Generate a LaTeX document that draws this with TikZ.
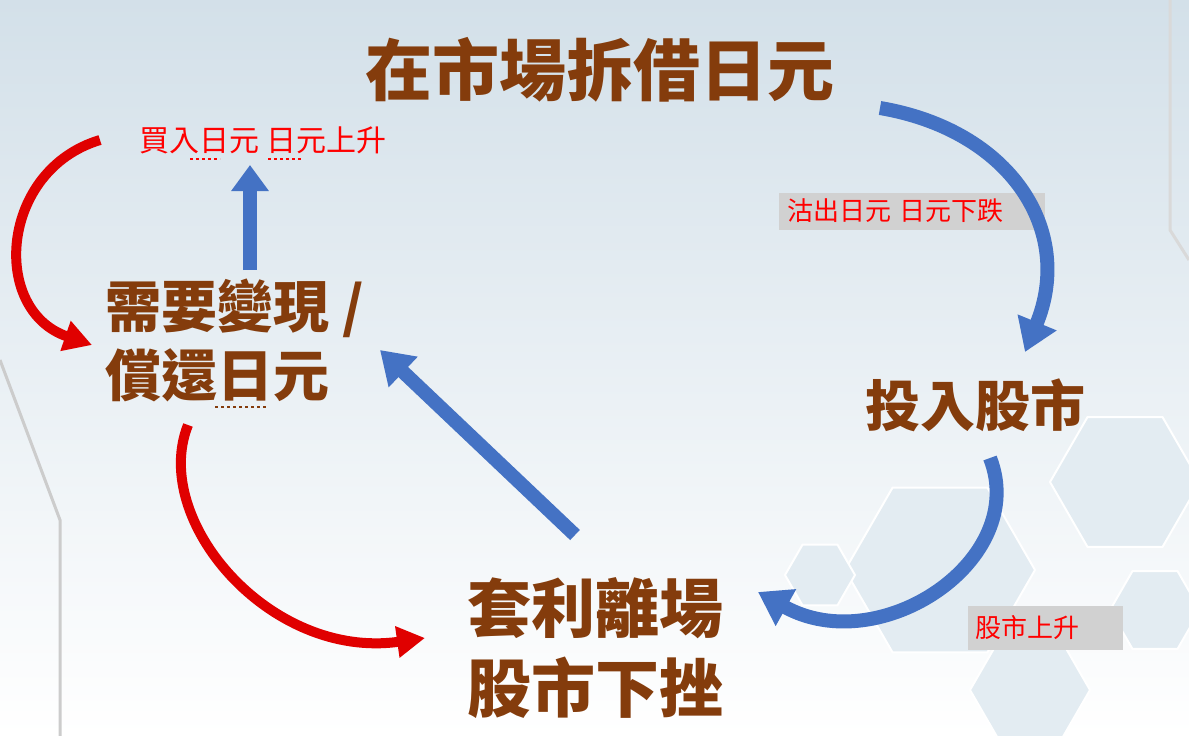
\documentclass[tikz,border=0pt]{standalone}
\usepackage{fontspec}
\setmainfont{Noto Sans CJK TC}
\usetikzlibrary{arrows.meta,shapes.geometric}
\definecolor{brn}{HTML}{843C0C}
\definecolor{bfill}{HTML}{4472C4}
\definecolor{rfill}{HTML}{E00000}
\definecolor{hexc}{HTML}{E3ECF2}
\definecolor{bgtop}{HTML}{D3E0E9}
\tikzset{
 big/.style={text=brn,font=\fontsize{56}{66}\selectfont\bfseries},
 lab/.style={text=red,font=\fontsize{26}{30}\selectfont},
 labbox/.style={lab,fill=black!18,inner sep=4pt,align=left},
 barrow/.style={draw=bfill,line width=14pt,-{Triangle[width=40pt,length=32pt]}},
 rarrow/.style={draw=rfill,line width=10pt,-{Triangle[width=30pt,length=28pt]}},
 hex/.style={regular polygon,regular polygon sides=6,fill=hexc,draw=white,line width=2pt,minimum size=#1}
}
\begin{document}
\begin{tikzpicture}[x=1pt,y=-1pt]
\shade[top color=bgtop,bottom color=white] (0,0) rectangle (1189,736);
\useasboundingbox (0,0) rectangle (1189,736);
\node[hex=150pt] (h1) at (1125,482) {};
\node[hex=190pt] (h2) at (940,570) {};
\node[hex=120pt] (h3) at (1030,690) {};
\node[hex=90pt] (h4) at (1155,610) {};
\node[hex=70pt] (h5) at (820,575) {};
\draw[gray!40,line width=3pt] (0,360) -- (60,520) -- (60,736);
\draw[gray!30,line width=3pt] (1170,0) -- (1170,230) -- (1189,260);
% texts
\node[big,font=\fontsize{67}{76}\selectfont\bfseries] (t) at (600,70) {在市場拆借日元};
\node[big] (n1) at (235,308) {需要變現 /};
\node[big] (n2) at (217,375) {償還日元};
\node[big,font=\fontsize{55}{64}\selectfont\bfseries] (s) at (975,405) {投入股市};
\node[big,font=\fontsize{64}{74}\selectfont\bfseries] (a1) at (595,608) {套利離場};
\node[big,font=\fontsize{64}{74}\selectfont\bfseries] (a2) at (595,688) {股市下挫};
\node[lab,font=\fontsize{30}{34}\selectfont] (l1) at (263,140) {買入日元 日元上升};
\node[labbox,minimum width=266pt,minimum height=37pt,text width=250pt] (l2) at (912,211) {沽出日元 日元下跌};
\node[labbox,minimum width=155pt,minimum height=44pt,text width=140pt] (l3) at (1045,628) {股市上升};
\draw[red,dashed,line width=1.2pt] (190,159)--(220,159) (268,159)--(302,159);
\draw[brn,dashed,line width=1.5pt] (215,407)--(268,407);
% arrows
\coordinate (b1s) at (880,108); \coordinate (b1e) at (1025,352);
\draw[barrow] (b1s) .. controls (1010,130) and (1075,230) .. (b1e);
\coordinate (b2s) at (990,458); \coordinate (b2e) at (758,592);
\draw[barrow] (b2s) .. controls (1030,560) and (880,660) .. (b2e);
\coordinate (b3s) at (575,535); \coordinate (b3e) at (380,350);
\draw[barrow] (b3s) -- (b3e);
\coordinate (b4s) at (250,270); \coordinate (b4e) at (250,165);
\draw[barrow,-{Triangle[width=36pt,length=26pt]}] (b4s) -- (b4e);
\coordinate (r1s) at (100,140); \coordinate (r1e) at (92,345);
\draw[rarrow] (r1s) .. controls (0,170) and (-10,310) .. (r1e);
\coordinate (r2s) at (188,425); \coordinate (r2e) at (425,638);
\draw[rarrow] (r2s) .. controls (150,520) and (270,660) .. (r2e);
\end{tikzpicture}
\end{document}
